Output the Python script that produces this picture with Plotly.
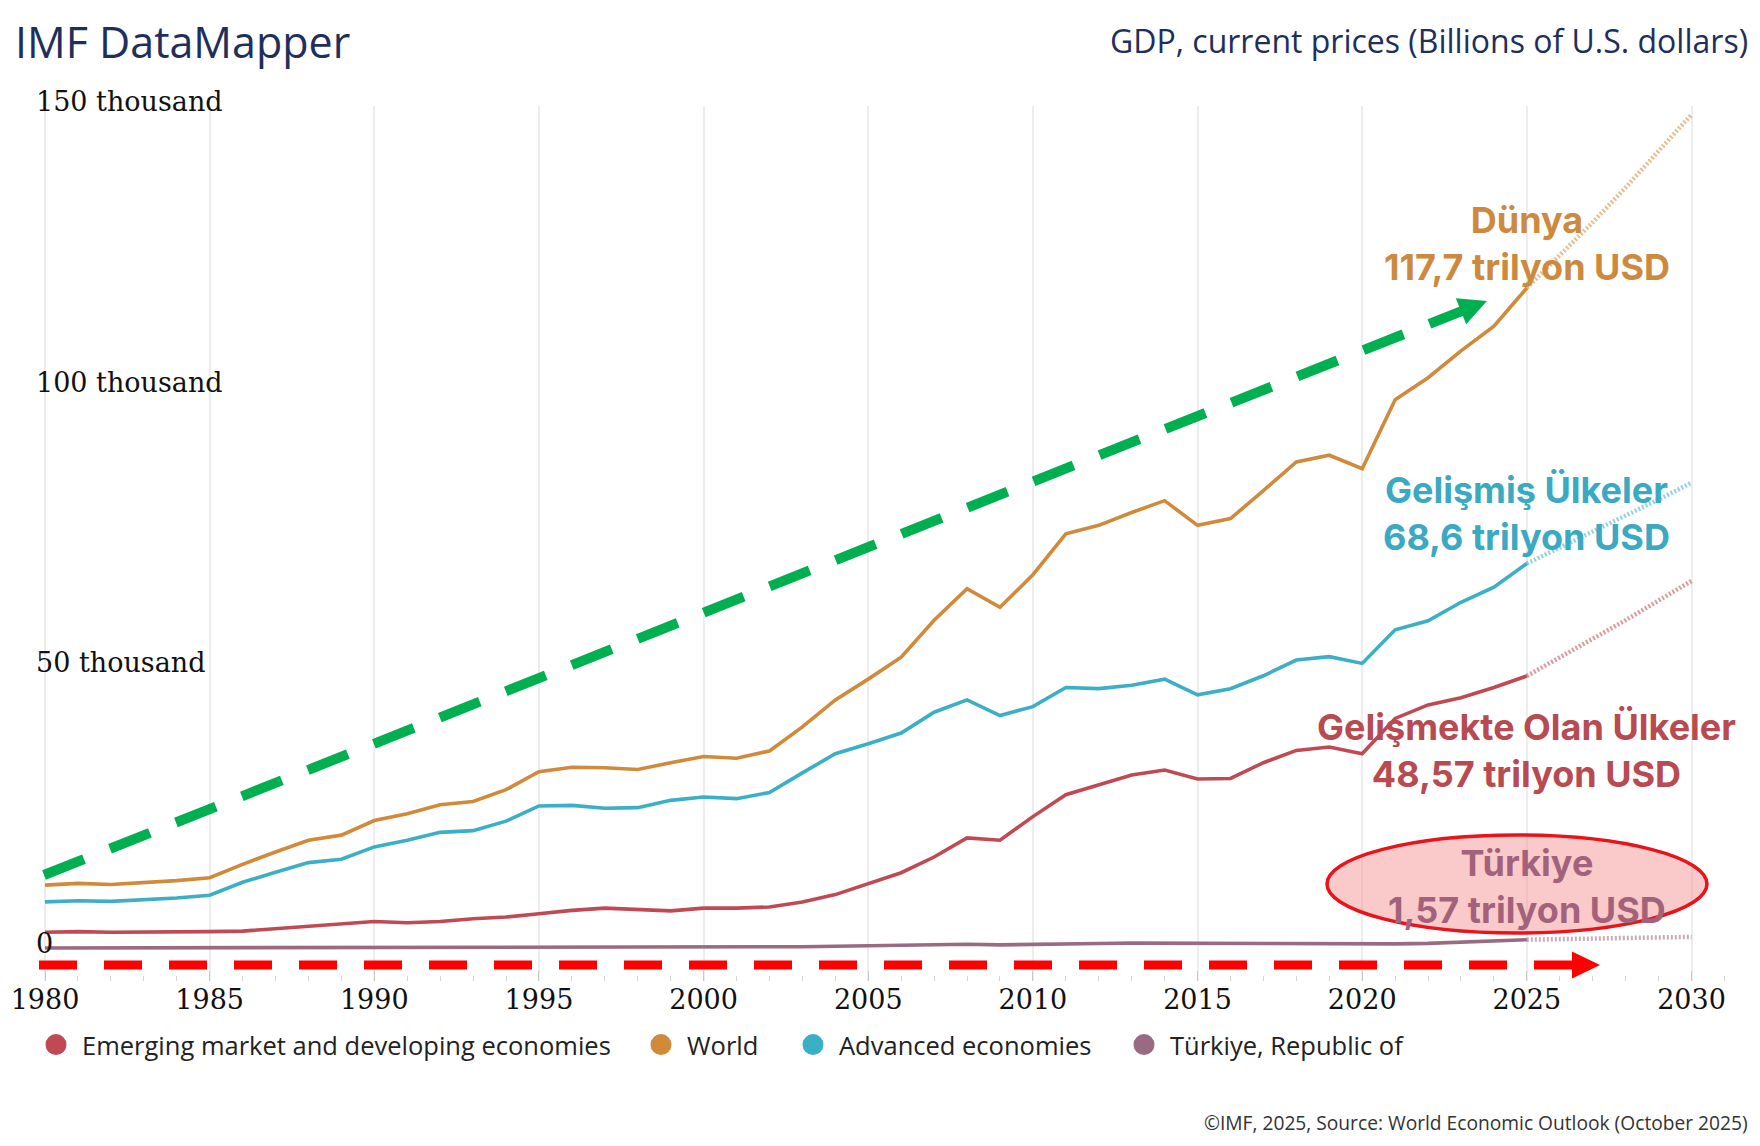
import plotly.graph_objects as go

# ---------------- data (billions of U.S. dollars) ----------------
years = list(range(1980, 2031))
proj_start = 2025

emde = [2900, 3000, 2900, 2900, 2900, 3000, 3100, 3500, 3900, 4300,
        4800, 4600, 4800, 5300, 5600, 6200, 6800, 7200, 6900, 6700,
        7200, 7200, 7400, 8300, 9600, 11500, 13500, 16300, 19700, 19300,
        23500, 27400, 29100, 30900, 31800, 30200, 30300, 33100, 35300, 35900,
        34700, 41000, 43400, 44700, 46500, 48570, 51900, 55100, 58500, 62000,
        65500]
world = [11300, 11600, 11400, 11700, 12100, 12600, 15000, 17200, 19300, 20200,
         22800, 24000, 25600, 26200, 28300, 31500, 32300, 32200, 31900, 33100,
         34200, 33900, 35200, 39500, 44300, 48000, 51900, 58500, 64100, 60800,
         66600, 73900, 75400, 77700, 79800, 75400, 76600, 81600, 86700, 87900,
         85500, 97800, 101700, 106500, 110900, 117700, 123500, 129400, 135600, 142000,
         148600]
advanced = [8300, 8500, 8400, 8700, 9000, 9500, 11800, 13600, 15300, 15900,
            18100, 19300, 20700, 21000, 22700, 25400, 25500, 25000, 25100, 26400,
            27000, 26700, 27800, 31300, 34700, 36500, 38400, 42100, 44300, 41500,
            43100, 46500, 46300, 46900, 48000, 45200, 46300, 48600, 51400, 52000,
            50800, 56800, 58400, 61700, 64400, 68600, 71400, 74200, 77100, 80000,
            83000]
turkiye = [95, 99, 88, 85, 80, 90, 96, 110, 115, 141,
           207, 210, 221, 250, 181, 233, 250, 266, 276, 256,
           274, 201, 240, 315, 409, 506, 557, 681, 770, 649,
           777, 838, 881, 957, 939, 864, 869, 859, 779, 761,
           720, 818, 907, 1130, 1360, 1570, 1700, 1800, 1890, 1980,
           2070]

series_names = ["Emerging market and developing economies", "World",
                "Advanced economies", "Türkiye, Republic of"]
series_values = [emde, world, advanced, turkiye]
series_colors = ["#C04A54", "#D08A3A", "#3AAFC5", "#9A6A83"]

x_tick_years = [1980, 1985, 1990, 1995, 2000, 2005, 2010, 2015, 2020, 2025, 2030]
y_tick_vals = [0, 50000, 100000, 150000]
y_tick_text = ["0", "50 thousand", "100 thousand", "150 thousand"]

label_lines = [("Dünya", "117,7 trilyon USD"),
               ("Gelişmiş Ülkeler", "68,6 trilyon USD"),
               ("Gelişmekte Olan Ülkeler", "48,57 trilyon USD"),
               ("Türkiye", "1,57 trilyon USD")]
label_colors = ["#CD8A3E", "#3AA9C1", "#B84A52", "#A3627B"]
label_y = [125600, 77600, 35300, 11000]

# ---------------- geometry (screen pixels; page body has an 8px margin) ----------------
OFF = 8
SW, SH = 1760, 1146
W, H = SW - 2 * OFF, SH - 2 * OFF
L, R_PX, T, B_PX = 33, 1730, 106, 981   # plot area in screen px
PPY = 32.93        # px per year
X1980 = 45         # screen px of 1980
Y0_PX = 948.5      # screen px of zero
PPK = 5.612        # px per thousand

xr = [1980 - (X1980 - L) / PPY, 1980 + (R_PX - X1980) / PPY]
yr = [-(B_PX - Y0_PX) / PPK * 1000, (Y0_PX - T) / PPK * 1000]


def px(xp):
    return (xp - L) / (R_PX - L)


def py(yp):
    return (B_PX - yp) / (B_PX - T)


fig = go.Figure()

# ---------------- lines ----------------
for name, vals, col in zip(series_names, series_values, series_colors):
    hx = [x for x in years if x <= proj_start]
    hy = [v for x, v in zip(years, vals) if x <= proj_start]
    fx = [x for x in years if x >= proj_start]
    fy = [v for x, v in zip(years, vals) if x >= proj_start]
    fig.add_trace(go.Scatter(x=fx, y=fy, mode="lines", opacity=0.55,
                             line=dict(color=col, width=4.5, dash="2px,2px"),
                             showlegend=False, hoverinfo="skip"))
    fig.add_trace(go.Scatter(x=hx, y=hy, mode="lines",
                             line=dict(color=col, width=3.6),
                             showlegend=False, name=name))

# ---------------- legends (one per item) ----------------
legend_centers = [56, 661, 813, 1144]
legend_keys = ["legend", "legend2", "legend3", "legend4"]
legend_layout = {}
for i, (name, col) in enumerate(zip(series_names, series_colors)):
    fig.add_trace(go.Scatter(x=[None], y=[None], mode="markers", name=name,
                             marker=dict(size=16, color=col, line=dict(width=5, color=col)),
                             legend=legend_keys[i], showlegend=True))
    legend_layout[legend_keys[i]] = dict(
        x=(legend_centers[i] - OFF - 26) / W, y=1 - (1045 - OFF) / H,
        xref="container", yref="container", xanchor="left", yanchor="middle",
        orientation="h", itemwidth=42, bgcolor="rgba(0,0,0,0)", borderwidth=0,
        font=dict(family="Open Sans", size=25.5, color="#222222"))

# ---------------- decorations ----------------
shapes = []


def dashed_arrow(x0p, y0p, tipx, tipy, width, head_len, head_half, dash, color):
    dx, dy = tipx - x0p, tipy - y0p
    ln = (dx * dx + dy * dy) ** 0.5
    ux, uy = dx / ln, dy / ln
    nx, ny = -uy, ux
    bx, by = tipx - head_len * ux, tipy - head_len * uy
    out = [dict(type="line", xref="paper", yref="paper",
                x0=px(x0p), y0=py(y0p), x1=px(bx + 2 * ux), y1=py(by + 2 * uy),
                line=dict(color=color, width=width, dash=dash))]
    pts = [(tipx, tipy), (bx + head_half * nx, by + head_half * ny),
           (bx - head_half * nx, by - head_half * ny)]
    path = "M" + " L".join(f"{px(a):.5f},{py(b):.5f}" for a, b in pts) + " Z"
    out.append(dict(type="path", xref="paper", yref="paper", path=path,
                    fillcolor=color, line=dict(width=0)))
    return out


shapes += dashed_arrow(44, 875, 1487, 301, 10, 28, 14, "43px,28px", "#00B050")
shapes += dashed_arrow(39, 965, 1600, 965, 9, 28, 13.5, "38px,27px", "#FF0000")

# ellipse around Türkiye label
shapes.append(dict(type="circle", xref="paper", yref="paper", layer="above",
                   x0=px(1327), x1=px(1707), y0=py(933), y1=py(835),
                   fillcolor="rgba(245,150,150,0.5)",
                   line=dict(color="#E8141B", width=3.5)))

# ---------------- annotations ----------------
annotations = []
for (l1, l2), col, yv in zip(label_lines, label_colors, label_y):
    annotations.append(dict(x=proj_start, y=yv, xref="x", yref="y",
                            text=f"{l1}<br>{l2}", showarrow=False,
                            xanchor="center", yanchor="middle", align="center",
                            font=dict(family="Inter", size=36, color=col, weight=700)))

annotations.append(dict(x=px(1750), y=py(40), xref="paper", yref="paper",
                        text="GDP, current prices (Billions of U.S. dollars)",
                        showarrow=False, xanchor="right", yanchor="middle",
                        font=dict(family="Open Sans", size=32, color="#1E2F5C")))
annotations.append(dict(x=px(1750), y=py(1122), xref="paper", yref="paper",
                        text="©IMF, 2025, Source: World Economic Outlook (October 2025)",
                        showarrow=False, xanchor="right", yanchor="middle",
                        font=dict(family="Open Sans", size=19.2, color="#333333")))

fig.update_layout(
    width=W, height=H,
    margin=dict(l=L - OFF, r=(SW - OFF) - R_PX, t=T - OFF, b=(SH - OFF) - B_PX,
                autoexpand=False),
    paper_bgcolor="white", plot_bgcolor="white",
    title=dict(text="IMF DataMapper", x=(15 - OFF) / W, y=1 - (43 - OFF) / H,
               xref="container", yref="container", xanchor="left", yanchor="middle",
               font=dict(family="Open Sans", size=43, color="#1E2F5C")),
    xaxis=dict(range=xr, tickmode="array", tickvals=x_tick_years,
               ticktext=[str(v) for v in x_tick_years],
               showgrid=True, gridcolor="#EDEDED", gridwidth=1.5,
               zeroline=False, showline=False,
               ticks="inside", ticklen=10, tickcolor="#C8C8C8", tickwidth=1,
               minor=dict(tickmode="linear", tick0=1980, dtick=1, ticks="inside",
                          ticklen=5, tickcolor="#D5D5D5", showgrid=False),
               tickfont=dict(family="DejaVu Serif", size=27, color="#111111")),
    yaxis=dict(range=yr, tickmode="array", tickvals=y_tick_vals, ticktext=y_tick_text,
               ticklabelposition="inside", ticklabeloverflow="allow",
               ticklabelshift=-5,
               showgrid=False, zeroline=False, showline=False, ticks="",
               tickfont=dict(family="DejaVu Serif", size=27, color="#111111")),
    shapes=shapes, annotations=annotations,
    showlegend=True,
    **legend_layout,
)

fig.write_html("out.html")
